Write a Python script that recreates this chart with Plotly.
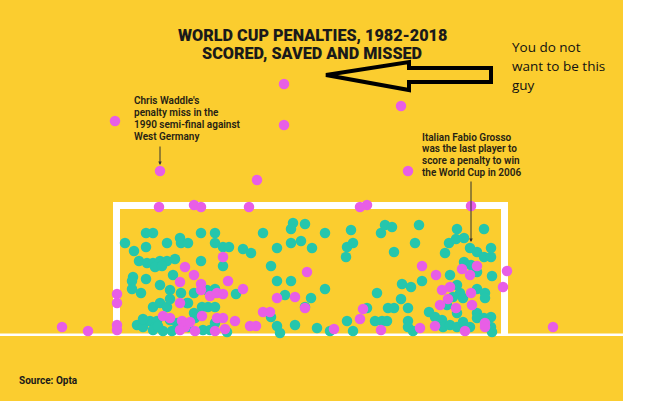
import plotly.graph_objects as go

# Shot placements as read from the graphic (horizontal, vertical positions on the picture plane)
scored_x = [146,153,201,215,263,293,305,291,
            125,134,146,167,180,181,188,215,223,229,243,251,277,291,301,312,
            139,147,153,160,167,175,155,162,201,223,271,
            133,132,146,173,160,277,291,
            132,141,170,181,194,207,215,236,285,311,187,
            153,160,167,170,188,194,202,208,215,271,305,
            137,143,150,157,155,170,177,188,195,215,277,280,295,317,153,163,172,203,210,227,158,143,
            325,351,347,353,346,381,385,392,419,415,394,445,449,457,456,464,484,470,477,484,491,491,464,471,477,492,
            325,377,402,411,422,401,388,394,408,450,457,460,477,485,485,453,463,447,457,477,
            347,353,367,375,382,387,408,408,413,429,435,442,443,450,457,463,470,477,484,491,491,492,330]
scored_y = [233,233,233,233,233,223,224,229,
            243,251,247,243,238,243,243,243,247,247,249,253,248,243,241,248,
            261,263,263,261,261,259,267,266,261,266,266,
            277,281,279,275,285,281,281,
            289,293,290,293,293,290,289,294,295,298,303,
            307,303,307,299,303,313,307,307,307,317,307,
            325,327,321,321,327,320,323,327,318,323,326,333,325,328,330,331,331,330,330,332,326,319,
            233,230,247,243,257,233,225,227,225,243,252,253,243,229,239,238,229,248,252,257,257,248,262,265,272,276,
            289,293,284,287,281,299,308,308,308,275,285,293,289,293,298,297,298,305,313,313,
            321,331,308,321,321,321,321,327,331,312,317,320,327,325,327,322,327,318,318,317,327,332,331]

missed_x = [115,160,257,284,284,401,408,62,88,553,507,503,
            159,194,201,249,360,367,471,
            223,185,307,180,194,201,201,228,243,210,217,223,277,295,117,117,180,263,270,305,
            163,170,182,185,190,202,217,223,215,225,235,195,180,117,117,250,256,334,363,360,
            436,422,462,470,477,442,450,448,440,456,472,471,381,420,435,465,485,485]
missed_y = [121,171,180,84,125,106,171,327,331,327,271,287,
            207,205,207,207,207,205,206,
            257,267,272,282,275,284,290,281,289,296,293,294,298,297,294,303,303,312,312,308,
            316,318,321,327,322,316,318,318,331,329,321,331,330,325,330,326,326,329,309,319,
            275,266,269,275,266,290,287,299,305,308,305,293,330,328,326,331,323,327]

title_lines = ["WORLD CUP PENALTIES, 1982-2018", "SCORED, SAVED AND MISSED"]
waddle_lines = ["Chris Waddle's", "penalty miss in the", "1990 semi-final against", "West Germany"]
grosso_lines = ["Italian Fabio Grosso", "was the last player to", "score a penalty to win", "the World Cup in 2006"]
guy_lines = ["You do not", "want to be this", "guy"]

YELLOW = "#FBCD2F"
TEAL = "#25C6AC"
PINK = "#E85EE6"

fig = go.Figure()
fig.add_trace(go.Scatter(x=scored_x, y=scored_y, mode="markers",
                         marker=dict(size=10.5, color=TEAL, line=dict(width=0)),
                         hoverinfo="skip", showlegend=False))
fig.add_trace(go.Scatter(x=missed_x, y=missed_y, mode="markers",
                         marker=dict(size=10.5, color=PINK, line=dict(width=0)),
                         hoverinfo="skip", showlegend=False))

shapes = [
    dict(type="rect", x0=0, x1=623, y0=0, y1=401, fillcolor=YELLOW, line=dict(width=0), layer="below"),
    # goal frame
    dict(type="rect", x0=113, x1=120, y0=202, y1=335, fillcolor="white", line=dict(width=0), layer="below"),
    dict(type="rect", x0=501, x1=508, y0=202, y1=335, fillcolor="white", line=dict(width=0), layer="below"),
    dict(type="rect", x0=113, x1=508, y0=202, y1=209, fillcolor="white", line=dict(width=0), layer="below"),
    # ground line
    dict(type="rect", x0=0, x1=623, y0=333.5, y1=336, fillcolor="white", line=dict(width=0), layer="below"),
    # hand-drawn arrow
    dict(type="path", path="M 326 75 L 409 62 L 409 68 L 491 68 L 491 82 L 409 82 L 409 90 Z",
         line=dict(color="black", width=4), fillcolor="rgba(0,0,0,0)", layer="above"),
]

annotations = []
for i, t in enumerate(title_lines):
    annotations.append(dict(x=312, y=35 + i * 18.5, text=t, showarrow=False, xanchor="center", yanchor="middle",
                            font=dict(family="Roboto", size=16.2, color="#1a1a1a", weight=900)))
for i, t in enumerate(waddle_lines):
    annotations.append(dict(x=132, y=100 + i * 12, text=t, showarrow=False, xanchor="left", yanchor="middle",
                            font=dict(family="Roboto", size=10, color="#262214", weight=600)))
for i, t in enumerate(grosso_lines):
    annotations.append(dict(x=420, y=137 + i * 11.7, text=t, showarrow=False, xanchor="left", yanchor="middle",
                            font=dict(family="Roboto", size=10, color="#262214", weight=600)))
for i, t in enumerate(guy_lines):
    annotations.append(dict(x=510, y=47 + i * 19, text=t, showarrow=False, xanchor="left", yanchor="middle",
                            font=dict(family="Open Sans", size=13.5, color="#111111")))
annotations.append(dict(x=17, y=380, text="Source: Opta", showarrow=False, xanchor="left", yanchor="middle",
                        font=dict(family="Roboto", size=10, color="#1a1a1a", weight=700)))
# pointer lines
annotations.append(dict(x=160, y=165, ax=160, ay=145, axref="x", ayref="y", xref="x", yref="y", text="",
                        showarrow=True, arrowhead=2, arrowsize=0.7, arrowwidth=1, arrowcolor="#333333"))
annotations.append(dict(x=471, y=242, ax=471, ay=180, axref="x", ayref="y", xref="x", yref="y", text="",
                        showarrow=True, arrowhead=2, arrowsize=0.7, arrowwidth=1, arrowcolor="#333333"))

fig.update_layout(
    width=660, height=401, margin=dict(l=0, r=0, t=0, b=0),
    paper_bgcolor="white", plot_bgcolor="white",
    xaxis=dict(range=[0, 660], visible=False, fixedrange=True),
    yaxis=dict(range=[401, 0], visible=False, fixedrange=True),
    shapes=shapes, annotations=annotations, showlegend=False,
)
fig.write_html("out.html")
